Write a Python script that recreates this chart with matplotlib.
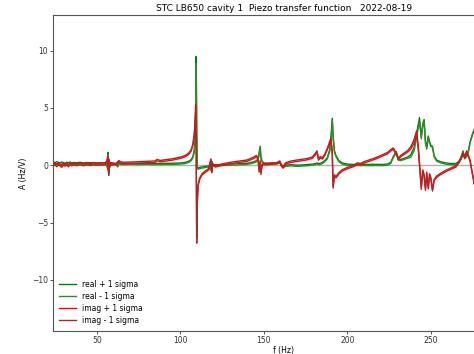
import matplotlib
matplotlib.use("Agg")
import matplotlib.pyplot as plt
import numpy as np

# frequency (Hz), real and imaginary parts (Hz/V)
freq = [24, 25, 26, 27, 28, 29, 30, 31, 32, 33, 34, 35, 36, 38, 40, 42, 44, 46, 48, 50,
        52, 54, 55, 56, 56.5, 56.8, 57.1, 57.4, 57.8, 58.5, 60, 61.5, 62.5, 63.2, 64, 66,
        70, 75, 80, 85, 86, 88, 90, 95, 100, 103, 105, 106.5, 107.5, 108.3, 108.8, 109.2,
        109.5, 109.8, 110.1, 110.6, 111.5, 113, 115, 117, 118.3, 118.8, 119.3, 121, 125,
        130, 135, 140, 144, 145.5, 146.5, 147.2, 147.8, 148.3, 149, 150, 152, 155, 158,
        159.5, 160.5, 161.5, 163, 166, 170, 175, 179, 181, 181.8, 182.8, 183.8, 185, 186.5,
        188, 189.5, 190.3, 191.0, 191.5, 192.3, 193.2, 195, 197, 200, 204, 206, 208, 210,
        213, 217, 221, 224, 226, 227.5, 229.3, 230.5, 232, 234, 236, 238, 240, 241.5,
        242.5, 243.2, 244.3, 245.2, 246, 246.8, 247.6, 248.5, 249.3, 250, 251, 252, 253.5,
        256, 259, 262, 265, 267, 268.2, 269.3, 270.3, 271.5, 272.5, 273.5, 275, 276, 277]

real = [0.20, 0.15, 0.22, 0.18, 0.12, 0.20, 0.15, 0.10, 0.18, 0.14, 0.20, 0.12, 0.16, 0.14,
        0.18, 0.12, 0.16, 0.14, 0.15, 0.12, 0.14, 0.12, 0.10, 0.05, -0.30, 1.05, -0.50,
        0.30, -0.10, 0.05, 0.10, 0.08, -0.10, 0.20, 0.12, 0.10, 0.12, 0.10, 0.12, 0.10,
        0.12, 0.10, 0.12, 0.12, 0.15, 0.20, 0.30, 0.45, 0.70, 1.20, 2.00, 4.50, 9.20, 3.00,
        -0.20, -0.30, -0.25, -0.20, -0.15, -0.10, -0.40, 0.30, -0.05, 0.00, 0.02, 0.05,
        0.08, 0.12, 0.25, 0.35, 0.50, 1.00, 1.55, 0.60, 0.30, 0.15, 0.10, 0.12, 0.18, 0.30,
        0.00, -0.15, -0.05, 0.00, -0.05, 0.00, 0.05, 0.10, 0.15, 0.10, 0.12, 0.20, 0.35,
        0.60, 1.30, 2.50, 4.00, 2.50, 1.20, 0.80, 0.35, 0.15, 0.05, 0.02, 0.03, 0.02, 0.03,
        0.02, 0.03, 0.02, 0.05, 0.20, 0.70, 1.15, 0.50, 0.45, 0.55, 0.65, 0.80, 1.40, 2.60,
        3.40, 4.00, 2.40, 3.50, 3.90, 2.00, 1.50, 2.50, 2.00, 1.70, 1.60, 0.80, 0.40, 0.25,
        0.15, 0.10, 0.10, 0.30, 0.70, 1.20, 0.60, 0.80, 1.20, 2.00, 2.70, 3.10, 3.00]

imag = [0.05, 0.10, -0.05, 0.12, 0.02, -0.10, 0.08, 0.00, 0.10, -0.05, 0.12, 0.03, 0.10,
        0.05, 0.12, 0.04, 0.10, 0.06, 0.12, 0.08, 0.10, 0.12, 0.15, 0.30, 0.70, -0.20,
        -0.80, 0.40, 0.10, 0.15, 0.12, 0.10, 0.25, 0.35, 0.25, 0.20, 0.22, 0.25, 0.28,
        0.32, 0.45, 0.36, 0.40, 0.50, 0.65, 0.80, 1.00, 1.30, 1.80, 2.60, 3.60, 5.10, 2.00,
        -6.60, -3.50, -1.80, -1.20, -0.80, -0.55, -0.35, 0.50, -0.60, 0.10, -0.10, 0.05,
        0.20, 0.30, 0.40, 0.65, 0.80, 0.60, -0.50, 0.30, -0.70, 0.05, 0.10, 0.12, 0.15,
        0.18, 0.30, 0.00, -0.20, 0.15, 0.30, 0.40, 0.50, 0.65, 1.00, 1.20, 0.50, 0.70, 0.60,
        0.90, 1.40, 2.00, 2.20, 1.00, -1.90, -0.90, -1.05, -0.70, -0.45, -0.25, -0.05,
        0.15, 0.10, 0.25, 0.40, 0.60, 0.85, 1.05, 1.30, 1.45, 1.00, 0.55, 0.80, 1.00, 1.20,
        1.50, 2.10, 2.85, 1.50, 0.20, -2.00, -0.50, -0.90, -2.10, -0.70, -2.00, -0.80,
        -1.10, -2.20, -1.30, -1.00, -0.75, -0.50, -0.30, -0.10, 0.30, 0.60, 1.00, 0.70,
        1.20, 0.80, 0.40, -0.80, -1.60, -1.00]

# 1 sigma uncertainties
real_sigma = [0.08] * 30 + [0.05] * 19 + [0.1, 0.15, 0.2, 0.3, 0.2, 0.1] + [0.05] * 16 \
    + [0.1, 0.1, 0.1] + [0.05] * 20 + [0.1, 0.15, 0.1, 0.1] + [0.05] * 20 \
    + [0.1, 0.15, 0.15, 0.15, 0.15, 0.1, 0.1, 0.1, 0.1, 0.1] + [0.05] * 25
imag_sigma = [0.08] * 30 + [0.06] * 19 + [0.1, 0.15, 0.2, 0.3, 0.2, 0.1] + [0.06] * 16 \
    + [0.1, 0.1, 0.1] + [0.06] * 20 + [0.1, 0.15, 0.1, 0.1] + [0.06] * 20 \
    + [0.1, 0.15, 0.15, 0.15, 0.15, 0.1, 0.1, 0.1, 0.1, 0.1] + [0.06] * 25

n = len(freq)
real_sigma = (real_sigma + [0.05] * n)[:n]
imag_sigma = (imag_sigma + [0.06] * n)[:n]

f = np.array(freq)
re = np.array(real)
im = np.array(imag)
rs = np.array(real_sigma)
ims = np.array(imag_sigma)

fig = plt.figure(figsize=(4.74, 3.54), dpi=100)
ax = fig.add_axes([0.112, 0.065, 0.973, 0.893])

ax.axhline(0, color="#b0b0b0", lw=1.0, zorder=1)
ax.plot(f, re + rs, color="green", lw=1.0, label="real + 1 sigma", zorder=2)
ax.plot(f, re - rs, color="#2e8b2e", lw=1.0, label="real - 1 sigma", zorder=2)
ax.plot(f, im + ims, color="red", lw=1.0, label="imag + 1 sigma", zorder=3)
ax.plot(f, im - ims, color="#a52a2a", lw=1.0, label="imag - 1 sigma", zorder=3)

ax.set_xlim(23.8, 300)
ax.set_ylim(-14.46, 13.12)
ax.set_xticks([50, 100, 150, 200, 250])
ax.set_yticks([-10, -5, 0, 5, 10])
ax.tick_params(labelsize=5.5, length=2, width=0.6, pad=1.5, colors="#333333")
for s in ax.spines.values():
    s.set_color("#555555")
    s.set_linewidth(0.8)

ax.set_title("STC LB650 cavity 1  Piezo transfer function   2022-08-19", fontsize=6.5, pad=3)
ax.set_xlabel("f (Hz)", fontsize=5.5, labelpad=0.5)
ax.set_ylabel("A (Hz/V)", fontsize=5.5, labelpad=3)
ax.legend(loc="lower left", fontsize=5.5, frameon=False, handlelength=2.2,
          borderaxespad=0.4, labelspacing=0.4)

fig.savefig("out.png", dpi=100)
